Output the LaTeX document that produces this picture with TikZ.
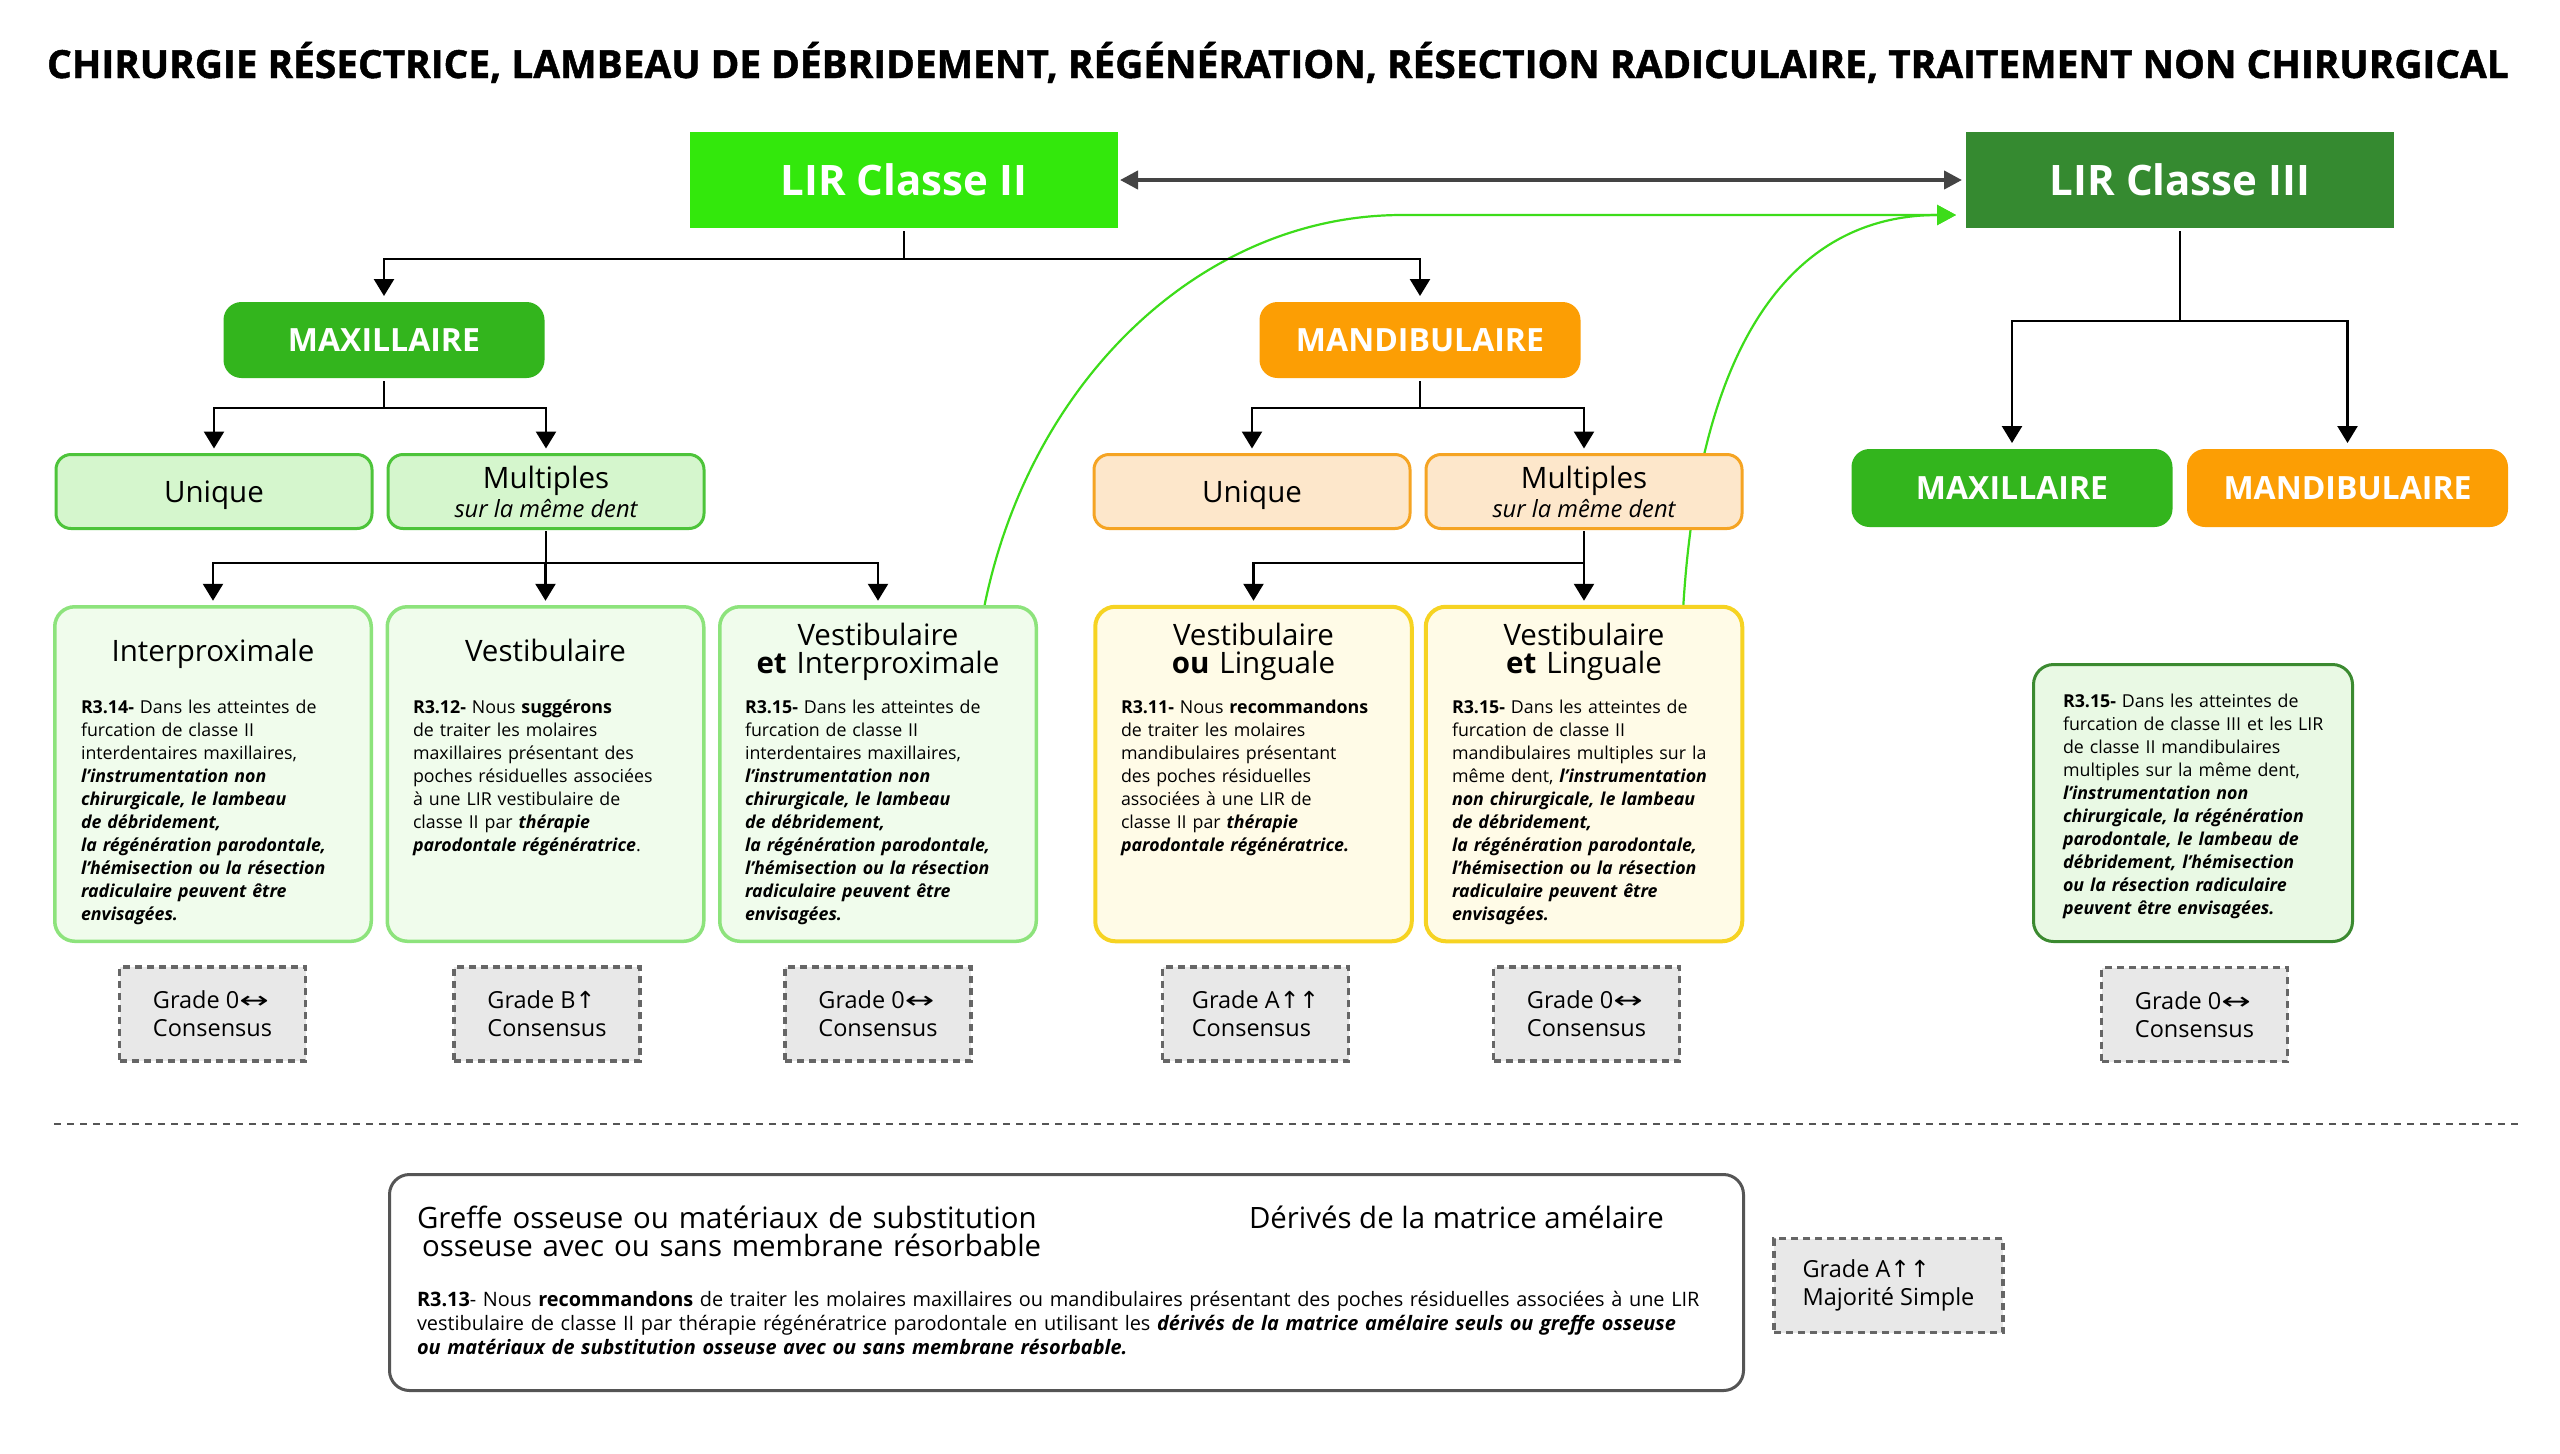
\documentclass[tikz,border=0pt]{standalone}
\usepackage{fontspec}
\setmainfont{Open Sans}
\newfontfamily\titlefont{Open Sans}[BoldFeatures={FakeBold=1.2}]
\newfontfamily\arrowfont{DejaVu Sans}
\usetikzlibrary{arrows.meta,calc,backgrounds}

\definecolor{lirtwo}{HTML}{33E80C}
\definecolor{lirthree}{HTML}{358A30}
\definecolor{maxg}{HTML}{33B51D}
\definecolor{mando}{HTML}{FC9E04}
\definecolor{lgfill}{HTML}{D5F6CD}
\definecolor{lgdraw}{HTML}{4DC43A}
\definecolor{lofill}{HTML}{FDE7CB}
\definecolor{lodraw}{HTML}{F5A423}
\definecolor{rgfill}{HTML}{F0FCEC}
\definecolor{rgdraw}{HTML}{8DE37C}
\definecolor{ryfill}{HTML}{FFFBE7}
\definecolor{rydraw}{HTML}{F6D322}
\definecolor{rthreefill}{HTML}{E9F9E4}
\definecolor{rthreedraw}{HTML}{3B8A30}
\definecolor{gradefill}{HTML}{E8E8E8}
\definecolor{gradedraw}{HTML}{666666}
\definecolor{curvegreen}{HTML}{3DDC1A}
\definecolor{darkarrow}{HTML}{444444}
\definecolor{botdraw}{HTML}{555555}
\definecolor{sepgray}{HTML}{555555}

\newcommand{\arr}[1]{{\arrowfont #1}}
\newcommand{\lrarr}{{\arrowfont\scalebox{1.5}[1]{↔}}}
\newcommand{\bfit}[1]{{\bfseries\itshape #1}}

\begin{document}
\begin{tikzpicture}[x=0.5pt,y=-0.5pt,
  every node/.style={inner sep=0pt,outer sep=0pt},
  lineb/.style={line width=1.25pt, black},
  conn/.style={lineb, shorten <=2pt, line cap=rect},
  arrowc/.style={lineb, -{Triangle[width=10pt,length=8.5pt]}, shorten >=3pt},
  dblarrow/.style={line width=2pt, darkarrow, arrows={Triangle[width=9pt,length=9pt]-Triangle[width=9pt,length=9pt]}, shorten <=1pt, shorten >=2pt},
  garrow/.style={line width=1.1pt, curvegreen, -{Triangle[width=10pt,length=9.5pt]}},
  titletext/.style={anchor=base, font=\fontsize{19.4}{23}\selectfont\titlefont\bfseries},
  lirbox/.style={minimum width=214pt, minimum height=48pt, text=white, font=\fontsize{21}{25}\selectfont\bfseries},
  jawbox/.style={rounded corners=9pt, minimum width=160.5pt, minimum height=38pt, text=white, font=\fontsize{16}{19}\selectfont\bfseries},
  subbox/.style={rounded corners=7.5pt, line width=1.5pt, minimum width=158pt, minimum height=37pt, align=center, font=\fontsize{14.75}{14.5}\selectfont},
  subg/.style={subbox, fill=lgfill, draw=lgdraw},
  subo/.style={subbox, fill=lofill, draw=lodraw},
  recbox/.style={rounded corners=10pt, minimum width=158.25pt, minimum height=167.25pt},
  recg/.style={recbox, fill=rgfill, draw=rgdraw, line width=1.75pt},
  recy/.style={recbox, fill=ryfill, draw=rydraw, line width=2pt},
  rthreebox/.style={rounded corners=10pt, minimum width=159.5pt, minimum height=138.5pt, fill=rthreefill, draw=rthreedraw, line width=1.5pt},
  hdr/.style={anchor=base, align=center, text width=155pt, font=\fontsize{14.75}{14}\selectfont},
  bodytxt/.style={anchor=base west, align=left, text width=170pt, font=\fontsize{8.9}{11.5}\selectfont},
  grade/.style={fill=gradefill, draw=gradedraw, line width=1.75pt, dash pattern=on 3.5pt off 2.5pt, minimum width=93pt, minimum height=47pt, align=left, font=\fontsize{11.75}{14}\selectfont},
  botbox/.style={rounded corners=10pt, draw=botdraw, line width=1.5pt, fill=white, minimum width=677pt, minimum height=108pt},
  bhdr/.style={font=\fontsize{14.7}{14}\selectfont},
  btxt/.style={anchor=base west, align=left, text width=720pt, font=\fontsize{9.95}{12}\selectfont},
  seprule/.style={line width=1.25pt, sepgray, dash pattern=on 3.5pt off 3pt},
]
\useasboundingbox (0,0) rectangle (2560,1453);

% title
\node[titletext] (title) at (1278,78) {CHIRURGIE RÉSECTRICE, LAMBEAU DE DÉBRIDEMENT, RÉGÉNÉRATION, RÉSECTION RADICULAIRE, TRAITEMENT NON CHIRURGICAL};

% top level
\node[lirbox, fill=lirtwo] (lir2) at (904,180) {LIR Classe II};
\node[lirbox, fill=lirthree] (lir3) at (2180,180) {LIR Classe III};

% jaws
\node[jawbox, fill=maxg] (max) at (384,340) {MAXILLAIRE};
\node[jawbox, fill=mando] (mand) at (1420,340) {MANDIBULAIRE};
\node[jawbox, fill=maxg, minimum height=39pt] (maxthree) at (2012,488) {MAXILLAIRE};
\node[jawbox, fill=mando, minimum height=39pt] (mandthree) at (2347.5,488) {MANDIBULAIRE};

% unique / multiples
\node[subg, text depth=0pt] (uni1) at (214,491.5) {Unique};
\node[subg] (mul1) at (546,491.5) {Multiples\\{\fontsize{11.85}{14.5}\selectfont\itshape sur la même dent}};
\node[subo, text depth=0pt] (uni2) at (1252,491.5) {Unique};
\node[subo] (mul2) at (1584,491.5) {Multiples\\{\fontsize{11.85}{14.5}\selectfont\itshape sur la même dent}};

% recommendation boxes
\node[recg] (rec1) at (213,774) {};
\node[recg] (rec2) at (545.5,774) {};
\node[recg] (rec3) at (878,774) {};
\node[recy] (rec4) at (1253.5,774) {};
\node[recy] (rec5) at (1584,774) {};
\node[rthreebox] (rec6) at (2193,803) {};

\node[hdr] (h1) at (213,661.5) {Interproximale};
\node[hdr] (h2) at (545.5,661.5) {Vestibulaire};
\node[hdr] (h3) at (878,645.5) {Vestibulaire\\\textbf{et} Interproximale};
\node[hdr] (h4) at (1253.5,645.5) {Vestibulaire\\\textbf{ou} Linguale};
\node[hdr] (h5) at (1584,645.5) {Vestibulaire\\\textbf{et} Linguale};

\node[bodytxt] (t1) at (81,713) {\textbf{R3.14-} Dans les atteintes de\\furcation de classe II\\interdentaires maxillaires,\\\bfit{l’instrumentation non}\\\bfit{chirurgicale, le lambeau}\\\bfit{de débridement,}\\\bfit{la régénération parodontale,}\\\bfit{l’hémisection ou la résection}\\\bfit{radiculaire peuvent être}\\\bfit{envisagées.}};
\node[bodytxt] (t2) at (413,713) {\textbf{R3.12-} Nous \textbf{suggérons}\\de traiter les molaires\\maxillaires présentant des\\poches résiduelles associées\\à une LIR vestibulaire de\\classe II par \bfit{thérapie}\\\bfit{parodontale régénératrice}.};
\node[bodytxt] (t3) at (745,713) {\textbf{R3.15-} Dans les atteintes de\\furcation de classe II\\interdentaires maxillaires,\\\bfit{l’instrumentation non}\\\bfit{chirurgicale, le lambeau}\\\bfit{de débridement,}\\\bfit{la régénération parodontale,}\\\bfit{l’hémisection ou la résection}\\\bfit{radiculaire peuvent être}\\\bfit{envisagées.}};
\node[bodytxt] (t4) at (1121,713) {\textbf{R3.11-} Nous \textbf{recommandons}\\de traiter les molaires\\mandibulaires présentant\\des poches résiduelles\\associées à une LIR de\\classe II par \bfit{thérapie}\\\bfit{parodontale régénératrice.}};
\node[bodytxt] (t5) at (1452,713) {\textbf{R3.15-} Dans les atteintes de\\furcation de classe II\\mandibulaires multiples sur la\\même dent, \bfit{l’instrumentation}\\\bfit{non chirurgicale, le lambeau}\\\bfit{de débridement,}\\\bfit{la régénération parodontale,}\\\bfit{l’hémisection ou la résection}\\\bfit{radiculaire peuvent être}\\\bfit{envisagées.}};
\node[bodytxt] (t6) at (2063,707) {\textbf{R3.15-} Dans les atteintes de\\furcation de classe III et les LIR\\de classe II mandibulaires\\multiples sur la même dent,\\\bfit{l’instrumentation non}\\\bfit{chirurgicale, la régénération}\\\bfit{parodontale, le lambeau de}\\\bfit{débridement, l’hémisection}\\\bfit{ou la résection radiculaire}\\\bfit{peuvent être envisagées.}};

% grades
\node[grade] (g1) at (212.5,1014) {Grade 0\lrarr\\Consensus};
\node[grade] (g2) at (547,1014) {Grade B\arr{↑}\\Consensus};
\node[grade] (g3) at (878,1014) {Grade 0\lrarr\\Consensus};
\node[grade] (g4) at (1255.5,1014) {Grade A\arr{↑↑}\\Consensus};
\node[grade] (g5) at (1586.5,1014) {Grade 0\lrarr\\Consensus};
\node[grade] (g6) at (2194.5,1014.5) {Grade 0\lrarr\\Consensus};
\node[grade, minimum width=114.5pt] (g7) at (1888.5,1285.5) {Grade A\arr{↑↑}\\Majorité Simple};

% separator
\draw[seprule] (54,1124) -- (2519,1124);

% bottom box
\node[botbox] (bot) at (1066.5,1282.5) {};
\node[bhdr, anchor=base west, align=left, text width=340pt] (bh1) at (417,1228) {Greffe osseuse ou matériaux de substitution\\\hspace*{2.5pt}osseuse avec ou sans membrane résorbable};
\node[bhdr, anchor=base west] (bh2) at (1249,1228) {Dérivés de la matrice amélaire};
\node[btxt] (bt) at (417,1306) {\textbf{R3.13}- Nous \textbf{recommandons} de traiter les molaires maxillaires ou mandibulaires présentant des poches résiduelles associées à une LIR\\vestibulaire de classe II par thérapie régénératrice parodontale en utilisant les \bfit{dérivés de la matrice amélaire seuls ou greffe osseuse}\\\bfit{ou matériaux de substitution osseuse avec ou sans membrane résorbable.}};

% connectors
\coordinate (j0) at (904,259);
\draw[conn] (lir2.south) -- (j0);
\draw[arrowc] (j0) -| (max.north);
\draw[arrowc] (j0) -| (mand.north);

\coordinate (j1) at (384,408);
\draw[conn] (max.south) -- (j1);
\draw[arrowc] (j1) -| (uni1.north);
\draw[arrowc] (j1) -| (mul1.north);

\coordinate (j2) at (546,563);
\draw[conn] (mul1.south) -- (j2);
\draw[arrowc] (j2) -| (rec1.north);
\draw[arrowc] (j2) -| (rec2.north);
\draw[arrowc] (j2) -| (rec3.north);

\coordinate (j3) at (1420,408);
\draw[conn] (mand.south) -- (j3);
\draw[arrowc] (j3) -| (uni2.north);
\draw[arrowc] (j3) -| (mul2.north);

\coordinate (j4) at (1584,563);
\draw[conn] (mul2.south) -- (j4);
\draw[arrowc] (j4) -| (rec4.north);
\draw[arrowc] (j4) -| (rec5.north);

\coordinate (j5) at (2180,321);
\draw[conn] (lir3.south) -- (j5);
\draw[arrowc] (j5) -| (maxthree.north);
\draw[arrowc] (j5) -| (mandthree.north);

\draw[dblarrow] (lir2.east) -- (lir3.west);

\begin{pgfonlayer}{background}
\fill[white] (0,0) rectangle (2560,1453);
\coordinate (gtip) at ($(lir3.west)+(-10,35)$);
\coordinate (gs1) at ($(rec3.north east)+(-52,0)$);
\coordinate (gs2) at ($(rec5.north east)+(-59,0)$);
\draw[garrow] (gs1) .. controls (1030,380) and (1202,215) .. (1402,215) -- (gtip);
\draw[garrow] (gs2) .. controls (1700,330) and (1800,215) .. (gtip);
\end{pgfonlayer}
\end{tikzpicture}
\end{document}
